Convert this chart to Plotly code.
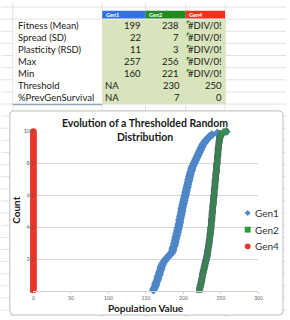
import plotly.graph_objects as go

W, H = 290, 320
FONT = "Lato"

# ---------------- data ----------------
counts = list(range(1, 101))

gen1 = [160, 161, 162, 163, 163, 164, 165, 166, 166, 167,
        168, 168, 169, 170, 170, 171, 172, 173, 175, 176,
        178, 180, 182, 184, 185, 186, 186, 187, 188, 188,
        189, 189, 190, 190, 191, 191, 192, 192, 193, 193,
        194, 194, 195, 195, 195, 196, 196, 197, 197, 198,
        198, 198, 199, 199, 200, 200, 201, 201, 202, 202,
        203, 203, 204, 204, 205, 205, 206, 206, 207, 207,
        208, 208, 209, 209, 210, 211, 211, 212, 213, 214,
        215, 216, 217, 218, 219, 220, 221, 222, 223, 224,
        225, 226, 228, 229, 231, 233, 235, 238, 245, 257]

gen2 = [221, 222, 222, 223, 223, 224, 224, 225, 225, 225,
        226, 226, 227, 227, 228, 228, 229, 229, 230, 230,
        231, 231, 232, 232, 232, 233, 233, 233, 234, 234,
        234, 235, 235, 235, 235, 236, 236, 236, 236, 237,
        237, 237, 237, 237, 238, 238, 238, 238, 238, 239,
        239, 239, 239, 239, 240, 240, 240, 240, 240, 241,
        241, 241, 241, 241, 242, 242, 242, 242, 242, 243,
        243, 243, 243, 243, 244, 244, 244, 244, 244, 245,
        245, 245, 245, 245, 246, 246, 246, 246, 246, 247,
        247, 247, 247, 248, 248, 248, 249, 250, 251, 256]

gen4 = [0, 0, 0, 0, 0, 0, 0, 0, 0, 0, 0, 0, 0, 0, 0, 0, 0, 0, 0, 0,
        0, 0, 0, 0, 0, 0, 0, 0, 0, 0, 0, 0, 0, 0, 0, 0, 0, 0, 0, 0,
        0, 0, 0, 0, 0, 0, 0, 0, 0, 0, 0, 0, 0, 0, 0, 0, 0, 0, 0, 0,
        0, 0, 0, 0, 0, 0, 0, 0, 0, 0, 0, 0, 0, 0, 0, 0, 0, 0, 0, 0,
        0, 0, 0, 0, 0, 0, 0, 0, 0, 0, 0, 0, 0, 0, 0, 0, 0, 0, 0, 0]

series_names = ["Gen1", "Gen2", "Gen4"]
row_labels = ["Fitness (Mean)", "Spread (SD)", "Plasticity (RSD)", "Max", "Min",
              "Threshold", "%PrevGenSurvival"]
gen1_stats = ["199", "22", "11", "257", "160", "NA", "NA"]
gen2_stats = ["238", "7", "3", "256", "221", "230", "7"]
gen4_stats = ["#DIV/0!", "#DIV/0!", "#DIV/0!", "#DIV/0!", "#DIV/0!", "250", "0"]

x_ticks = [0, 50, 100, 150, 200, 250, 300]
y_ticks = [0, 20, 40, 60, 80, 100]

title_text = "Evolution of a Thresholded Random<br>Distribution"
x_title = "Population Value"
y_title = "Count"

# ---------------- styles ----------------
C_BLUE = "#4F86C6"
C_GREEN = "#2A9A3A"
C_RED = "#E8372C"
HDR_COLORS = ["#3470DE", "#238B23", "#F5301F"]
CELL_GREEN = "#D8E4BC"
GRID = "#E2E2E2"


def X(px):
    return px / W


def Y(py):
    return 1 - py / H


fig = go.Figure()

fig.add_trace(go.Scatter(x=gen1, y=counts, mode="markers", name=series_names[0],
                         marker=dict(symbol="diamond", size=7, color=C_BLUE),
                         cliponaxis=False, showlegend=False))
fig.add_trace(go.Scatter(x=gen2, y=counts, mode="markers", name=series_names[1],
                         marker=dict(symbol="square", size=5.5, color=C_GREEN,
                                     line=dict(width=0.6, color="#55607A")),
                         cliponaxis=False, showlegend=False))
fig.add_trace(go.Scatter(x=gen4, y=counts, mode="markers", name=series_names[2],
                         marker=dict(symbol="circle", size=6.5, color=C_RED),
                         cliponaxis=False, showlegend=False))

shapes = []
annotations = []

# spreadsheet gridlines
row_top = 16.5
pitch = 12.35
k = -2
while True:
    yy = row_top + k * pitch
    if yy > H:
        break
    if yy >= 0:
        shapes.append(dict(type="line", xref="paper", yref="paper", layer="below",
                           x0=0, x1=1, y0=Y(yy), y1=Y(yy),
                           line=dict(color=GRID, width=1)))
    k += 1
for vx in [12, 103, 147, 188, 228]:
    shapes.append(dict(type="line", xref="paper", yref="paper", layer="below",
                       x0=X(vx), x1=X(vx), y0=Y(0), y1=Y(H),
                       line=dict(color=GRID, width=1)))

table_bottom = row_top + 7 * pitch
# label column (white, no lines) and green data cells
shapes.append(dict(type="rect", xref="paper", yref="paper", layer="below",
                   x0=X(12.5), x1=X(103), y0=Y(row_top + 0.5), y1=Y(table_bottom - 0.5),
                   fillcolor="white", line=dict(width=0)))
shapes.append(dict(type="rect", xref="paper", yref="paper", layer="below",
                   x0=X(103), x1=X(228.5), y0=Y(row_top + 0.5), y1=Y(table_bottom),
                   fillcolor=CELL_GREEN, line=dict(width=0)))
# header cells
hdr_x = [103, 147, 188, 228]
for i, name in enumerate(series_names):
    shapes.append(dict(type="rect", xref="paper", yref="paper", layer="below",
                       x0=X(hdr_x[i]), x1=X(hdr_x[i + 1]), y0=Y(8), y1=Y(15.8),
                       fillcolor=HDR_COLORS[i], line=dict(width=0)))
    annotations.append(dict(text="<b>" + name + "</b>", xref="paper", yref="paper",
                            x=X(hdr_x[i] + 1.5), y=Y(12), xanchor="left", yanchor="middle",
                            showarrow=False, font=dict(family=FONT, size=5.5, color="white")))
# selection border under last label row
shapes.append(dict(type="line", xref="paper", yref="paper", layer="below",
                   x0=X(12), x1=X(103), y0=Y(table_bottom + 0.5), y1=Y(table_bottom + 0.5),
                   line=dict(color="#8FA8C8", width=1.5)))

# table text
for r, lab in enumerate(row_labels):
    cy = row_top + pitch * (r + 0.5)
    annotations.append(dict(text=lab, xref="paper", yref="paper", x=X(15), y=Y(cy),
                            xanchor="left", yanchor="middle", showarrow=False,
                            font=dict(family=FONT, size=9.5, color="#1a1a1a")))
    v1 = gen1_stats[r]
    if v1 == "NA":
        annotations.append(dict(text=v1, xref="paper", yref="paper", x=X(103.5), y=Y(cy),
                                xanchor="left", yanchor="middle", showarrow=False,
                                font=dict(family=FONT, size=9.5, color="#1a1a1a")))
    else:
        annotations.append(dict(text=v1, xref="paper", yref="paper", x=X(144), y=Y(cy),
                                xanchor="right", yanchor="middle", showarrow=False,
                                font=dict(family=FONT, size=9.5, color="#1a1a1a")))
    v2 = gen2_stats[r]
    annotations.append(dict(text=v2, xref="paper", yref="paper",
                            x=X(183 if r < 5 else 184), y=Y(cy),
                            xanchor="right", yanchor="middle", showarrow=False,
                            font=dict(family=FONT, size=9.5, color="#1a1a1a")))
    v4 = gen4_stats[r]
    annotations.append(dict(text=v4, xref="paper", yref="paper", x=X(226.5), y=Y(cy),
                            xanchor="right", yanchor="middle", showarrow=False,
                            font=dict(family=FONT, size=9.5, color="#1a1a1a")))
    if v4.startswith("#"):
        top = row_top + pitch * r
        x0, y0 = X(189), Y(top + 1.5)
        x1, y1 = X(192.5), Y(top + 1.5)
        x2, y2 = X(189), Y(top + 5)
        shapes.append(dict(type="path", xref="paper", yref="paper", layer="below",
                           path=f"M {x0},{y0} L {x1},{y1} L {x2},{y2} Z",
                           fillcolor="#2E8B2E", line=dict(width=0)))

# chart box (rounded)
bx0, bx1, by0, by1, rad = 9, 287, 110, 318, 4
rx, ry = rad / W, rad / H
p = (f"M {X(bx0)+rx},{Y(by0)} L {X(bx1)-rx},{Y(by0)} Q {X(bx1)},{Y(by0)} {X(bx1)},{Y(by0)-ry} "
     f"L {X(bx1)},{Y(by1)+ry} Q {X(bx1)},{Y(by1)} {X(bx1)-rx},{Y(by1)} "
     f"L {X(bx0)+rx},{Y(by1)} Q {X(bx0)},{Y(by1)} {X(bx0)},{Y(by1)+ry} "
     f"L {X(bx0)},{Y(by0)-ry} Q {X(bx0)},{Y(by0)} {X(bx0)+rx},{Y(by0)} Z")
shapes.append(dict(type="path", xref="paper", yref="paper", layer="below", path=p,
                   fillcolor="white", line=dict(color="#BDBDBD", width=1)))

# title & axis titles
annotations.append(dict(text="<b>" + title_text + "</b>", xref="paper", yref="paper",
                        x=X(147), y=Y(129), xanchor="center", yanchor="middle",
                        showarrow=False, align="center",
                        font=dict(family=FONT, size=10.5, color="#1a1a1a")))
annotations.append(dict(text="<b>" + x_title + "</b>", xref="paper", yref="paper",
                        x=X(148), y=Y(311), xanchor="center", yanchor="middle",
                        showarrow=False, font=dict(family=FONT, size=10, color="#1a1a1a")))
annotations.append(dict(text="<b>" + y_title + "</b>", xref="paper", yref="paper",
                        x=X(15), y=Y(211), xanchor="center", yanchor="middle", textangle=-90,
                        showarrow=False, font=dict(family=FONT, size=10, color="#1a1a1a")))

# legend (drawn manually)
leg_y = [214, 231, 248]
leg_sym = ["diamond", "square", "circle"]
leg_col = [C_BLUE, C_GREEN, C_RED]
for i, name in enumerate(series_names):
    cx, cy = 251, leg_y[i]
    s = 3
    if leg_sym[i] == "diamond":
        path = (f"M {X(cx)},{Y(cy - s)} L {X(cx + s)},{Y(cy)} L {X(cx)},{Y(cy + s)} "
                f"L {X(cx - s)},{Y(cy)} Z")
        shapes.append(dict(type="path", xref="paper", yref="paper", path=path,
                           fillcolor=leg_col[i], line=dict(width=0)))
    elif leg_sym[i] == "square":
        shapes.append(dict(type="rect", xref="paper", yref="paper",
                           x0=X(cx - 3), x1=X(cx + 3), y0=Y(cy - 3), y1=Y(cy + 3),
                           fillcolor=leg_col[i], line=dict(width=0)))
    else:
        shapes.append(dict(type="circle", xref="paper", yref="paper",
                           x0=X(cx - 3), x1=X(cx + 3), y0=Y(cy - 3), y1=Y(cy + 3),
                           fillcolor=leg_col[i], line=dict(width=0)))
    annotations.append(dict(text=name, xref="paper", yref="paper", x=X(256.5), y=Y(cy),
                            xanchor="left", yanchor="middle", showarrow=False,
                            font=dict(family=FONT, size=10, color="#333333")))

fig.update_layout(
    width=W, height=H, autosize=False,
    margin=dict(l=0, r=0, t=0, b=0, pad=0),
    paper_bgcolor="white", plot_bgcolor="rgba(0,0,0,0)",
    showlegend=False,
    shapes=shapes, annotations=annotations,
    xaxis=dict(domain=[X(33), X(262)], range=[0, 300], tickvals=x_ticks,
               showgrid=False, zeroline=False, showline=True, linecolor="#D0D0D0",
               linewidth=1, ticks="outside", ticklen=2, tickcolor="#D0D0D0",
               tickfont=dict(family=FONT, size=5, color="#666666"), fixedrange=True),
    yaxis=dict(domain=[1 - 294 / H, 1 - 131 / H], range=[0, 100], tickvals=y_ticks,
               showgrid=True, gridcolor="#D9D9D9", gridwidth=1, zeroline=False,
               showline=False, ticks="",
               tickfont=dict(family=FONT, size=5, color="#666666"), fixedrange=True),
)

fig.write_html("out.html")
